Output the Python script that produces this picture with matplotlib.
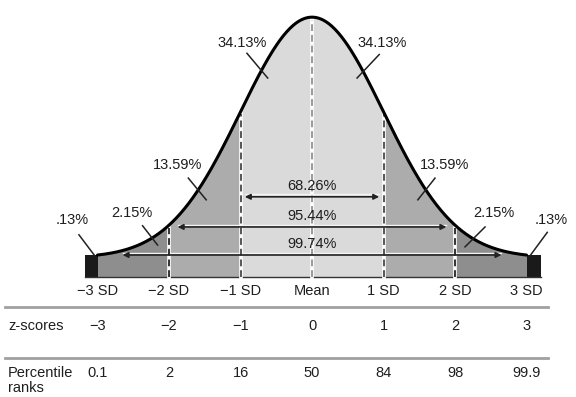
import numpy as np
import matplotlib
matplotlib.use('Agg')
import matplotlib.pyplot as plt

plt.rcParams['font.family'] = ['Liberation Sans', 'DejaVu Sans']

# ─── Data ────────────────────────────────────────────────────────────────────
sd_positions = [-3, -2, -1, 0, 1, 2, 3]
sd_labels = ['\u22123 SD', '\u22122 SD', '\u22121 SD', 'Mean', '1 SD', '2 SD', '3 SD']
z_scores = ['\u22123', '\u22122', '\u22121', '0', '1', '2', '3']
percentile_ranks = ['0.1', '2', '16', '50', '84', '98', '99.9']

# area labels: text, text position, leader start, leader end
area_labels = ['.13%', '2.15%', '13.59%', '34.13%', '34.13%', '13.59%', '2.15%', '.13%']
area_text_xy = [(-3.35, 0.095), (-2.52, 0.106), (-1.88, 0.185), (-0.98, 0.388),
                (0.98, 0.388), (1.85, 0.185), (2.55, 0.106), (3.35, 0.095)]
area_leader = [((-3.26, 0.070), (-3.05, 0.037)), ((-2.37, 0.085), (-2.16, 0.053)),
               ((-1.73, 0.164), (-1.48, 0.128)), ((-0.91, 0.371), (-0.62, 0.330)),
               ((0.94, 0.369), (0.63, 0.330)), ((1.72, 0.164), (1.48, 0.128)),
               ((2.42, 0.083), (2.14, 0.050)), ((3.29, 0.074), (3.06, 0.037))]

span_labels = ['68.26%', '95.44%', '99.74%']
span_half_width = [0.94, 1.88, 2.65]
span_y = [0.133, 0.083, 0.0365]

OFFSET = 0.032
band_colors = ['#8e8e8e', '#acacac', '#dadada', '#dadada', '#acacac', '#8e8e8e']
TEXT = '#1e1e1e'


def curve(x):
    return OFFSET + np.exp(-x ** 2 / 2) / np.sqrt(2 * np.pi)


fig = plt.figure(figsize=(5.76, 3.97), dpi=100)
ax = fig.add_axes([0, 0, 1, 1])
ax.set_xlim(-4.364, 3.692)
ax.set_ylim(-0.199, 0.4594)
ax.axis('off')

# shaded bands under the curve
for i in range(6):
    xs = np.linspace(sd_positions[i], sd_positions[i + 1], 100)
    ax.fill_between(xs, 0, curve(xs), color=band_colors[i], lw=0, zorder=1)

# black tail boxes
top = curve(3.0)
ax.fill_between([-3.17, -3.0], 0, top, color='#1a1a1a', lw=0, zorder=2)
ax.fill_between([3.0, 3.2], 0, top, color='#1a1a1a', lw=0, zorder=2)

# curve outline
xs = np.linspace(-3, 3, 400)
ax.plot(xs, curve(xs), color='black', lw=2.2, zorder=5, solid_capstyle='round')
ax.plot([-3.17, 3.2], [0, 0], color='#333333', lw=1.0, zorder=3)

# dashed SD lines
for x in [-2, -1, 0, 1, 2]:
    c = '#9a9a9a' if x == 0 else ('#555555' if abs(x) == 1 else '#333333')
    ax.plot([x, x], [0, curve(x) - 0.004], color='white', lw=2.6, zorder=3)
    ax.plot([x, x], [0, curve(x) - 0.004], color=c, lw=1.4,
            linestyle=(0, (3.5, 2)), zorder=4)

# span arrows
for lab, hw, y in zip(span_labels, span_half_width, span_y):
    ax.plot([-hw, hw], [y + 0.004, y + 0.004], color='#f4f4f4', lw=1.0, zorder=3)
    ax.annotate('', xy=(hw, y), xytext=(-hw, y),
                arrowprops=dict(arrowstyle='<|-|>', color='#222222', lw=1.2,
                                mutation_scale=8, shrinkA=0, shrinkB=0),
                zorder=4)
    ax.text(0, y + 0.018, lab, ha='center', va='center', fontsize=10.5,
            color=TEXT, zorder=6)

# area labels with leaders
for lab, (tx, ty), (p0, p1) in zip(area_labels, area_text_xy, area_leader):
    ax.text(tx, ty, lab, ha='center', va='center', fontsize=10.5, color=TEXT, zorder=6)
    ax.plot([p0[0], p1[0]], [p0[1], p1[1]], color='#222222', lw=1.1, zorder=6)

# SD labels
for x, lab in zip(sd_positions, sd_labels):
    ax.text(x, -0.023, lab, ha='center', va='center', fontsize=10.5, color=TEXT)

# table rules
for y in [-0.0497, -0.134]:
    ax.plot([-4.29, 3.30], [y, y], color='#a0a0a0', lw=2.0)

ax.text(-4.25, -0.081, 'z-scores', ha='left', va='center', fontsize=10.5, color=TEXT)
ax.text(-4.25, -0.159, 'Percentile', ha='left', va='center', fontsize=10.5, color=TEXT)
ax.text(-4.25, -0.184, 'ranks', ha='left', va='center', fontsize=10.5, color=TEXT)
for x, z, p in zip(sd_positions, z_scores, percentile_ranks):
    ax.text(x, -0.081, z, ha='center', va='center', fontsize=10.5, color=TEXT)
    ax.text(x, -0.159, p, ha='center', va='center', fontsize=10.5, color=TEXT)

fig.savefig('out.png', dpi=100, facecolor='white')
